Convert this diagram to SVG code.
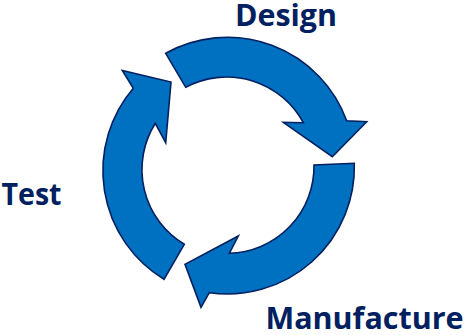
<svg xmlns="http://www.w3.org/2000/svg" width="467" height="335" viewBox="0 0 467 335">
  <style>
    .arrow { fill: #0070C0; stroke: #002060; stroke-width: 1.6; stroke-linejoin: miter; }
    .label { font-family: "Open Sans", "Liberation Sans", Arial, sans-serif; font-weight: bold; font-size: 29.5px; fill: #002060; }
  </style>
  <rect width="467" height="335" fill="#ffffff"/>
  <g id="connectors">
    <!-- Design -> Manufacture -->
    <path id="arc-design" class="arrow" d="M 165.7,53.3 A 127 127 0 0 1 346.7,120.7 L 366.7,121.7 L 332.3,156.7 L 283.3,122.3 L 303.3,122.7 A 87 87 0 0 0 185.7,87.3 Z"/>
    <!-- Manufacture -> Test -->
    <path id="arc-manufacture" class="arrow" d="M 354.3,163.3 A 127 127 0 0 1 209.3,292.7 L 201,307.3 L 185,264.3 L 238.3,236 L 229.3,253.3 A 87 87 0 0 0 314,165 Z"/>
    <!-- Test -> Design -->
    <path id="arc-test" class="arrow" d="M 164,279.3 A 127 127 0 0 1 133.3,88.3 L 122.3,70.5 L 171,82 L 165.7,142.7 L 155.3,123.3 A 87 87 0 0 0 184.3,244.3 Z"/>
  </g>
  <g id="node-design">
    <text class="label" x="235" y="25.7" textLength="102" lengthAdjust="spacingAndGlyphs">Design</text>
  </g>
  <g id="node-test">
    <text class="label" x="1.5" y="205" textLength="60" lengthAdjust="spacingAndGlyphs">Test</text>
  </g>
  <g id="node-manufacture">
    <text class="label" x="265.5" y="329.3" textLength="198" lengthAdjust="spacingAndGlyphs">Manufacture</text>
  </g>
</svg>
